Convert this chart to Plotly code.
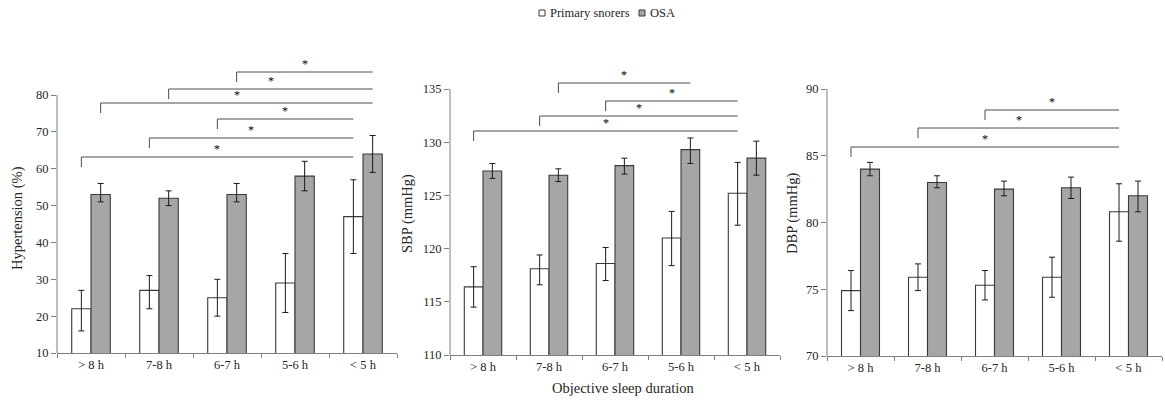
import plotly.graph_objects as go

# ---------------- data ----------------
categories = ["> 8 h", "7-8 h", "6-7 h", "5-6 h", "< 5 h"]
series_names = ["Primary snorers", "OSA"]

# Panel 1: Hypertension (%)
htn_ps = [22, 27, 25, 29, 47]
htn_ps_lo = [16, 22, 20, 21, 37]
htn_ps_hi = [27, 31, 30, 37, 57]
htn_osa = [53, 52, 53, 58, 64]
htn_osa_lo = [51, 50, 51, 54, 59]
htn_osa_hi = [56, 54, 56, 62, 69]

# Panel 2: SBP (mmHg)
sbp_ps = [116.4, 118.1, 118.6, 121.0, 125.2]
sbp_ps_lo = [114.5, 116.6, 117.0, 118.4, 122.2]
sbp_ps_hi = [118.3, 119.4, 120.1, 123.5, 128.1]
sbp_osa = [127.3, 126.9, 127.8, 129.3, 128.5]
sbp_osa_lo = [126.6, 126.3, 127.0, 128.0, 126.9]
sbp_osa_hi = [128.0, 127.5, 128.5, 130.4, 130.1]

# Panel 3: DBP (mmHg)
dbp_ps = [74.9, 75.9, 75.3, 75.9, 80.8]
dbp_ps_lo = [73.4, 74.9, 74.2, 74.4, 78.6]
dbp_ps_hi = [76.4, 76.9, 76.4, 77.4, 82.9]
dbp_osa = [84.0, 83.0, 82.5, 82.6, 82.0]
dbp_osa_lo = [83.5, 82.6, 82.0, 81.8, 80.8]
dbp_osa_hi = [84.5, 83.5, 83.1, 83.4, 83.1]

# significant comparisons: (series index 0=PS 1=OSA, from category, to category)
htn_sig = [(0, 0, 4), (0, 1, 4), (0, 2, 4), (1, 0, 4), (1, 1, 4), (1, 2, 4)]
sbp_sig = [(0, 0, 4), (0, 1, 4), (0, 2, 4), (1, 1, 3)]
dbp_sig = [(0, 0, 4), (0, 1, 4), (0, 2, 4)]

y_titles = ["Hypertension (%)", "SBP (mmHg)", "DBP (mmHg)"]
x_title = "Objective sleep duration"

# ---------------- layout parameters (pixels) ----------------
W, H = 1165, 405
TOP_PX = 55
panels = [
    dict(x0=57, x1=397, bottom=353, ymin=10, ytop=80, ytop_px=95, dtick=10,
         ps=(htn_ps, htn_ps_lo, htn_ps_hi), osa=(htn_osa, htn_osa_lo, htn_osa_hi),
         sig=htn_sig, levels_px=[157, 138, 119, 103, 89, 72], title_xy=(17, 218)),
    dict(x0=450, x1=780, bottom=355, ymin=110, ytop=135, ytop_px=89, dtick=5,
         ps=(sbp_ps, sbp_ps_lo, sbp_ps_hi), osa=(sbp_osa, sbp_osa_lo, sbp_osa_hi),
         sig=sbp_sig, levels_px=[131, 116, 101, 83], title_xy=(408, 214)),
    dict(x0=827, x1=1162, bottom=356, ymin=70, ytop=90, ytop_px=89, dtick=5,
         ps=(dbp_ps, dbp_ps_lo, dbp_ps_hi), osa=(dbp_osa, dbp_osa_lo, dbp_osa_hi),
         sig=dbp_sig, levels_px=[147, 128, 110], title_xy=(793, 214)),
]

FONT = "Liberation Serif, Times New Roman, serif"
AXIS_COLOR = "#7f7f7f"
TEXT_COLOR = "#262626"
GRAY_BAR = "#a6a6a6"
BAR_LINE = "#3a3a3a"
BRACKET_COLOR = "#4d4d4d"
BARGAP = 0.433
DROP_PX = 10
BAR_COLORS = ["white", GRAY_BAR]
# custom legend geometry (px): (square left, text left)
LEGEND_ITEMS = [(539, 548), (639, 648)]
LEGEND_Y = 13

fig = go.Figure()
shapes = []
annotations = []
xs = list(range(len(categories)))
half_off = (1 - BARGAP) / 4.0

for i, p in enumerate(panels):
    sfx = "" if i == 0 else str(i + 1)
    xa, ya = "x" + sfx, "y" + sfx
    scale = (p["bottom"] - p["ytop_px"]) / (p["ytop"] - p["ymin"])  # px per unit
    ymax = p["ymin"] + (p["bottom"] - TOP_PX) / scale

    for k, (name, (vals, lo, hi), color) in enumerate(
            zip(series_names, [p["ps"], p["osa"]], BAR_COLORS)):
        fig.add_trace(go.Bar(
            x=xs, y=vals, name=name, xaxis=xa, yaxis=ya,
            marker=dict(color=color, line=dict(color=BAR_LINE, width=1.1)),
            error_y=dict(type="data", symmetric=False,
                         array=[h - v for h, v in zip(hi, vals)],
                         arrayminus=[v - l for v, l in zip(vals, lo)],
                         color="#1a1a1a", thickness=1, width=3),
            showlegend=False, hoverinfo="skip",
        ))

    fig.update_layout(**{
        ("xaxis" + sfx): dict(
            domain=[p["x0"] / W, p["x1"] / W], anchor=ya, automargin=False,
            range=[-0.5, len(categories) - 0.5],
            tickmode="array", tickvals=xs, ticktext=categories, ticks="",
            minor=dict(tickmode="array",
                       tickvals=[c - 0.5 for c in range(len(categories) + 1)],
                       ticks="outside", ticklen=4, tickcolor=AXIS_COLOR, tickwidth=1),
            showline=True, linecolor=AXIS_COLOR, linewidth=1,
            showgrid=False, zeroline=False, fixedrange=True,
            tickfont=dict(family=FONT, size=12.5, color=TEXT_COLOR),
        ),
        ("yaxis" + sfx): dict(
            domain=[1 - p["bottom"] / H, 1 - TOP_PX / H], anchor=xa, automargin=False,
            range=[p["ymin"], ymax], fixedrange=True,
            tickmode="array",
            tickvals=list(range(p["ymin"], p["ytop"] + 1, p["dtick"])),
            ticks="outside", ticklen=5, tickcolor=AXIS_COLOR,
            showline=False, showgrid=False, zeroline=False,
            tickfont=dict(family=FONT, size=12.5, color=TEXT_COLOR),
        ),
    })

    # y axis line only up to the top tick
    shapes.append(dict(type="line", xref="paper", yref="paper",
                       x0=p["x0"] / W, x1=p["x0"] / W,
                       y0=1 - p["bottom"] / H, y1=1 - p["ytop_px"] / H,
                       line=dict(color=AXIS_COLOR, width=1)))

    # significance brackets
    for (s, a, b), lev_px in zip(p["sig"], p["levels_px"]):
        off = -half_off if s == 0 else half_off
        xa0, xb0 = a + off, b + off
        y_line = p["ymin"] + (p["bottom"] - lev_px) / scale
        y_drop = y_line - DROP_PX / scale
        shapes.append(dict(type="line", xref=xa, yref=ya, x0=xa0, x1=xb0,
                           y0=y_line, y1=y_line,
                           line=dict(color=BRACKET_COLOR, width=1)))
        shapes.append(dict(type="line", xref=xa, yref=ya, x0=xa0, x1=xa0,
                           y0=y_line, y1=y_drop,
                           line=dict(color=BRACKET_COLOR, width=1)))
        annotations.append(dict(xref=xa, yref=ya, x=(xa0 + xb0) / 2, y=y_line,
                                text="*", showarrow=False, yanchor="bottom",
                                yshift=-1,
                                font=dict(family=FONT, size=12, color="#000000")))

    tx, ty = p["title_xy"]
    annotations.append(dict(xref="paper", yref="paper", x=tx / W, y=1 - ty / H,
                            text=y_titles[i], textangle=-90, showarrow=False,
                            xanchor="center", yanchor="middle",
                            font=dict(family=FONT, size=14.5, color=TEXT_COLOR)))

annotations.append(dict(xref="paper", yref="paper", x=623 / W, y=1 - 388 / H,
                        text=x_title, showarrow=False, xanchor="center",
                        yanchor="middle",
                        font=dict(family=FONT, size=14.5, color=TEXT_COLOR)))

# legend drawn as small squares + text
for name, color, (sq_x, tx_x) in zip(series_names, BAR_COLORS, LEGEND_ITEMS):
    shapes.append(dict(type="rect", xref="paper", yref="paper",
                       x0=sq_x / W, x1=(sq_x + 6) / W,
                       y0=1 - (LEGEND_Y + 3) / H, y1=1 - (LEGEND_Y - 3) / H,
                       fillcolor=color, line=dict(color=BAR_LINE, width=1)))
    annotations.append(dict(xref="paper", yref="paper", x=tx_x / W, y=1 - LEGEND_Y / H,
                            text=name, showarrow=False, xanchor="left",
                            yanchor="middle",
                            font=dict(family=FONT, size=12.5, color=TEXT_COLOR)))

fig.update_layout(
    width=W, height=H,
    margin=dict(l=0, r=0, t=0, b=0),
    paper_bgcolor="white", plot_bgcolor="white",
    barmode="group", bargap=BARGAP, bargroupgap=0,
    shapes=shapes, annotations=annotations,
    showlegend=False, hovermode=False,
    font=dict(family=FONT),
)

fig.write_html("out.html",
               config={"displayModeBar": False, "staticPlot": True},
               post_script="document.body.style.margin='0';"
                           "document.body.style.overflow='hidden';")
